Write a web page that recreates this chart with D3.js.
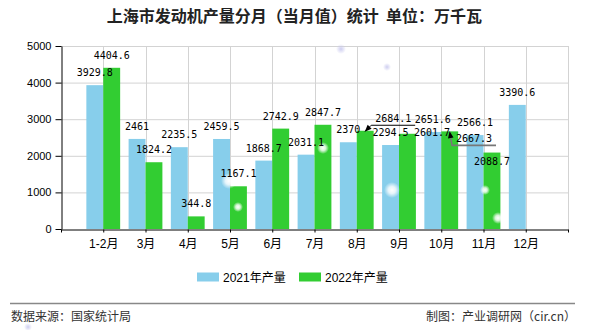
<!DOCTYPE html>
<html>
<head>
<meta charset="utf-8">
<script src="https://cdn.jsdelivr.net/npm/d3@7/dist/d3.min.js"></script>
<style>
  html, body { margin: 0; padding: 0; background: #fff; }
  svg { display: block; }
</style>
</head>
<body>
<svg id="chart" width="590" height="330"></svg>
<script>
// ---------- data ----------
const categories = ["1-2月", "3月", "4月", "5月", "6月", "7月", "8月", "9月", "10月", "11月", "12月"];
const values2021 = [3929.8, 2461, 2235.5, 2459.5, 1868.7, 2031.1, 2370, 2294.5, 2651.6, 2566.1, 3390.6];
const values2022 = [4404.6, 1824.2, 344.8, 1167.1, 2742.9, 2847.7, 2684.1, 2601.7, 2667.3, 2088.7, null];
const seriesNames = ["2021年产量", "2022年产量"];
const yTicks = [0, 1000, 2000, 3000, 4000, 5000];
const titleText = "上海市发动机产量分月（当月值）统计  单位：万千瓦";
const sourceText = "数据来源：国家统计局";
const creditText = "制图：产业调研网（cir.cn）";

// ---------- layout ----------
const colors = ["#87CEEB", "#32CD32"];
const svg = d3.select("#chart");
const pL = 61, pR = 568, pT = 46, pB = 229;

const x = d3.scaleLinear().domain([0, categories.length + 1]).range([pL, pR]);
const y = d3.scaleLinear().domain([0, 5000]).range([pB, pT]);
const bw = (x(1) - x(0)) * 0.4;

// label nudges for collided labels (series, index) -> [dx, dy]
const nudges = { "1-6": [28, 0], "1-7": [24.5, 11.7], "1-8": [24.3, 19.5], "1-9": [0, 21.5] };

// title
svg.append("text")
  .attr("x", 294.5).attr("y", 22)
  .attr("text-anchor", "middle")
  .attr("font-family", "'Noto Sans CJK SC', sans-serif")
  .attr("font-weight", "bold")
  .attr("font-size", 16)
  .style("white-space", "pre")
  .attr("fill", "#222")
  .text(titleText);

// grid
const grid = svg.append("g");
grid.selectAll("line.h").data(yTicks.filter(d => d > 0)).join("line")
  .attr("x1", pL).attr("x2", pR)
  .attr("y1", d => y(d) + 0.5).attr("y2", d => y(d) + 0.5)
  .attr("stroke", "#d3d3d3").attr("stroke-width", 1);
grid.selectAll("line.v").data(d3.range(1, categories.length + 2)).join("line")
  .attr("x1", d => Math.round(x(d)) + 0.5).attr("x2", d => Math.round(x(d)) + 0.5)
  .attr("y1", pT).attr("y2", pB)
  .attr("stroke", "#d3d3d3").attr("stroke-width", 1);

// bars
const series = [values2021, values2022];
series.forEach((vals, s) => {
  svg.append("g").selectAll("rect").data(vals.map((v, i) => ({ v, i })).filter(d => d.v != null)).join("rect")
    .attr("x", d => x(d.i + 1) + (s === 0 ? -bw : 0))
    .attr("y", d => y(d.v))
    .attr("width", bw)
    .attr("height", d => pB - y(d.v))
    .attr("fill", colors[s]);
});

// glows (decorative)
const defs = svg.append("defs");
const rg = defs.append("radialGradient").attr("id", "glow");
rg.append("stop").attr("offset", "0%").attr("stop-color", "#fff").attr("stop-opacity", 1);
rg.append("stop").attr("offset", "45%").attr("stop-color", "#fff").attr("stop-opacity", 0.8);
rg.append("stop").attr("offset", "100%").attr("stop-color", "#fff").attr("stop-opacity", 0);
const glows = [[229, 181, 8], [238, 207, 5], [323, 148, 6], [392, 190, 8], [485, 190, 5], [498, 218, 6]];
svg.append("g").selectAll("circle").data(glows).join("circle")
  .attr("cx", d => d[0]).attr("cy", d => d[1]).attr("r", d => d[2])
  .attr("fill", "url(#glow)");
const rg2 = defs.append("radialGradient").attr("id", "dot");
rg2.append("stop").attr("offset", "0%").attr("stop-color", "#c8c8ee").attr("stop-opacity", 0.9);
rg2.append("stop").attr("offset", "100%").attr("stop-color", "#c8c8ee").attr("stop-opacity", 0);
svg.append("g").selectAll("circle").data([[341, 49, 5], [387, 67, 4], [28, 327, 4]]).join("circle")
  .attr("cx", d => d[0]).attr("cy", d => d[1]).attr("r", d => d[2])
  .attr("fill", "url(#dot)");

// axes
const yAxis = svg.append("g").attr("transform", `translate(${pL + 0.5},0)`)
  .call(d3.axisLeft(y).tickValues(yTicks).tickSize(6).tickSizeOuter(0).tickFormat(d3.format("d")));
yAxis.select(".domain").attr("stroke", "#000");
yAxis.selectAll(".tick line").attr("stroke", "#000");
yAxis.selectAll("text").attr("font-family", "'Liberation Sans', Arial, sans-serif")
  .attr("font-size", 11).attr("fill", "#000").attr("dx", -1);

const xAxis = svg.append("g").attr("transform", `translate(0,${pB + 0.5})`)
  .call(d3.axisBottom(x).tickValues(d3.range(0, categories.length + 2)).tickSize(3).tickSizeOuter(0)
    .tickFormat(d => (d >= 1 && d <= categories.length) ? categories[d - 1] : ""));
xAxis.select(".domain").attr("stroke", "#000");
xAxis.selectAll(".tick line").attr("stroke", "#000");
xAxis.selectAll("text").attr("font-family", "'Liberation Sans', 'Noto Sans CJK SC', sans-serif")
  .attr("font-size", 12).attr("fill", "#000").attr("dy", "1.0em");

// leader lines
const ann = svg.append("g");
defs.append("marker").attr("id", "arr").attr("viewBox", "0 0 10 10")
  .attr("refX", 9).attr("refY", 5).attr("markerWidth", 8).attr("markerHeight", 7)
  .attr("markerUnits", "userSpaceOnUse")
  .attr("orient", "auto")
  .append("path").attr("d", "M0,1 L10,5 L0,9 Z").attr("fill", "#000");
function leader(s, i, color, width) {
  const key = s + "-" + i;
  const v = series[s][i];
  const cx = x(i + 1) + (s === 0 ? -bw / 2 : bw / 2);
  const [dx, dy] = nudges[key];
  const ly = y(v) - 9 + dy + 3.5;
  const lx0 = cx + dx - 22, lx1 = cx + dx + 22;
  ann.append("path")
    .attr("d", `M${lx1},${ly} L${lx0},${ly} L${cx},${y(v) + 0.5}`)
    .attr("fill", "none").attr("stroke", color).attr("stroke-width", width)
    .attr("marker-end", "url(#arr)");
}
leader(1, 6, "#000", 1);
leader(1, 8, "#777", 1.6);

// value labels
series.forEach((vals, s) => {
  svg.append("g").selectAll("text").data(vals.map((v, i) => ({ v, i })).filter(d => d.v != null)).join("text")
    .attr("x", d => x(d.i + 1) + (s === 0 ? -bw / 2 : bw / 2) + ((nudges[s + "-" + d.i] || [0, 0])[0]))
    .attr("y", d => y(d.v) - 9 + ((nudges[s + "-" + d.i] || [0, 0])[1]))
    .attr("text-anchor", "middle")
    .attr("font-family", "'DejaVu Sans Mono', 'Liberation Mono', monospace")
    .attr("font-size", 10)
    .attr("fill", "#000")
    .text(d => String(d.v));
});

// legend
const leg = svg.append("g");
const legX = [197, 299];
seriesNames.forEach((n, s) => {
  leg.append("rect").attr("x", legX[s]).attr("y", 272.5).attr("width", 22).attr("height", 9).attr("fill", colors[s]);
  leg.append("text").attr("x", legX[s] + 26).attr("y", 282)
    .attr("font-family", "'Liberation Sans', 'Noto Sans CJK SC', sans-serif")
    .attr("font-size", 12).attr("fill", "#000").text(n);
});

// footer
svg.append("line").attr("x1", 10).attr("x2", 575).attr("y1", 303.5).attr("y2", 303.5)
  .attr("stroke", "#888").attr("stroke-width", 1.5);
svg.append("text").attr("x", 11).attr("y", 321)
  .attr("font-family", "'Noto Sans CJK SC', sans-serif").attr("font-size", 12).attr("fill", "#333")
  .text(sourceText);
svg.append("text").attr("x", 576).attr("y", 321).attr("text-anchor", "end")
  .attr("font-family", "'Noto Sans CJK SC', sans-serif").attr("font-size", 12).attr("fill", "#333")
  .text(creditText);
</script>
</body>
</html>
